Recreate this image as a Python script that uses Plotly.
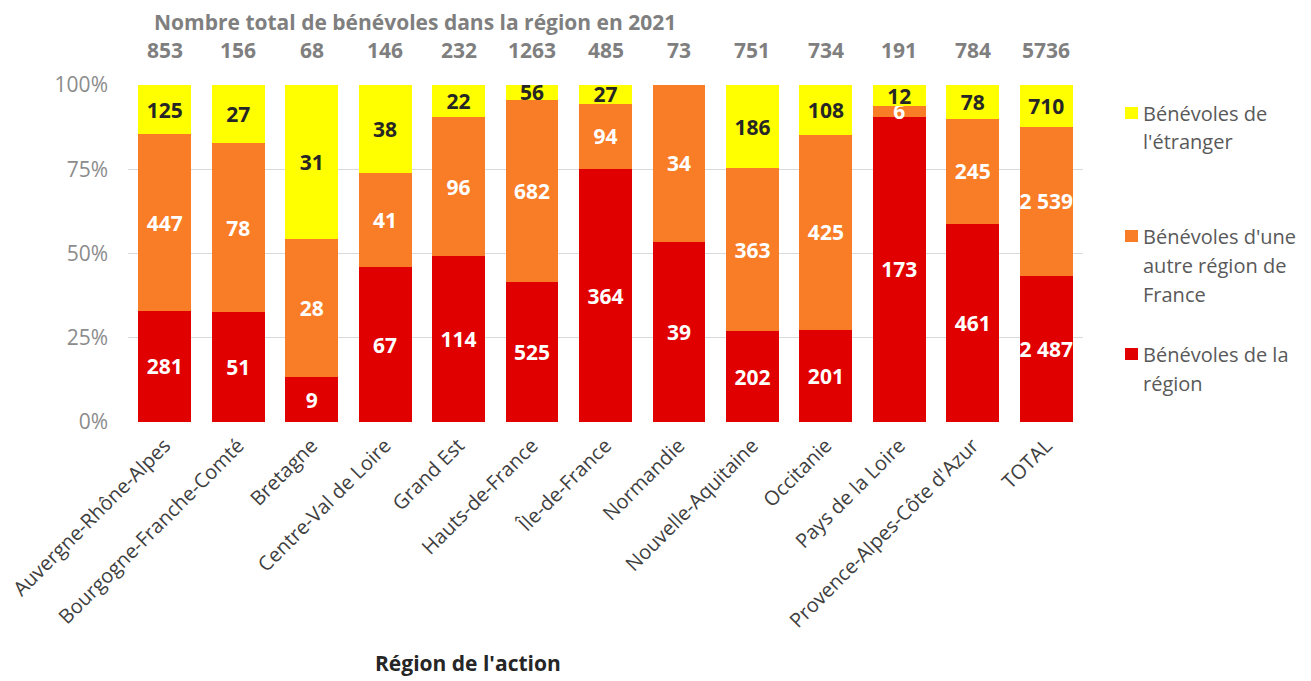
import plotly.graph_objects as go

regions = ["Auvergne-Rhône-Alpes", "Bourgogne-Franche-Comté", "Bretagne",
           "Centre-Val de Loire", "Grand Est", "Hauts-de-France", "Île-de-France",
           "Normandie", "Nouvelle-Aquitaine", "Occitanie", "Pays de la Loire",
           "Provence-Alpes-Côte d'Azur", "TOTAL"]
local_vals = [281, 51, 9, 67, 114, 525, 364, 39, 202, 201, 173, 461, 2487]
other_vals = [447, 78, 28, 41, 96, 682, 94, 34, 363, 425, 6, 245, 2539]
abroad_vals = [125, 27, 31, 38, 22, 56, 27, 0, 186, 108, 12, 78, 710]
totals = [853, 156, 68, 146, 232, 1263, 485, 73, 751, 734, 191, 784, 5736]

series_names = ["Bénévoles de la région", "Bénévoles d'une autre région de France",
                "Bénévoles de l'étranger"]
legend_lines = [["Bénévoles de", "l'étranger"],
                ["Bénévoles d'une", "autre région de", "France"],
                ["Bénévoles de la", "région"]]
ytick_vals = [0, 25, 50, 75, 100]
ytick_text = ["0%", "25%", "50%", "75%", "100%"]

title_text = "Nombre total de bénévoles dans la région en 2021"
xaxis_title = "Région de l'action"

RED = "#e00000"
ORANGE = "#f97c27"
YELLOW = "#ffff00"

FONT = "Open Sans, Lato, DejaVu Sans, sans-serif"
OFF = 8  # browser body margin

FIG_W, FIG_H = 1311 - OFF, 681 - OFF


def fmt(v):
    return "" if v == 0 else f"{v:,}".replace(",", " ")


fig = go.Figure()
for name, vals, col, tcol in [
    (series_names[0], local_vals, RED, "#ffffff"),
    (series_names[1], other_vals, ORANGE, "#ffffff"),
    (series_names[2], abroad_vals, YELLOW, "#262626"),
]:
    fig.add_trace(go.Bar(
        x=regions, y=vals, name=name, marker=dict(color=col, line=dict(width=0)),
        text=[fmt(v) for v in vals], textposition="inside",
        insidetextanchor="middle", textangle=0, constraintext="none",
        textfont=dict(family=FONT, size=21, color=tcol, weight="bold"),
        showlegend=False, cliponaxis=False,
    ))

# plot area in page pixels
L, R, T, B = 128, 1083, 85, 422
W, H = R - L, B - T


def px_x(px):
    return (px - L) / W


def px_y(py):
    return (B - py) / H


annotations = []
annotations.append(dict(text=title_text, xref="paper", yref="paper",
                        x=px_x(415), y=px_y(22.5), showarrow=False,
                        xanchor="center", yanchor="middle",
                        font=dict(family=FONT, size=21, color="#7f7f7f", weight="bold")))
for reg, tot in zip(regions, totals):
    annotations.append(dict(text=str(tot), xref="x", yref="paper", x=reg, y=px_y(50),
                            showarrow=False, xanchor="center", yanchor="middle",
                            font=dict(family=FONT, size=21, color="#7f7f7f", weight="bold")))
annotations.append(dict(text=xaxis_title, xref="paper", yref="paper",
                        x=px_x(468), y=px_y(663), showarrow=False,
                        xanchor="center", yanchor="middle",
                        font=dict(family=FONT, size=21, color="#262626", weight="bold")))

shapes = []
legend_colors = [YELLOW, ORANGE, RED]
legend_line_y = [[113, 141], [236, 265, 294], [354, 383]]
for col, lines, ys in zip(legend_colors, legend_lines, legend_line_y):
    yc = ys[0]
    shapes.append(dict(type="rect", xref="paper", yref="paper",
                       x0=px_x(1125), x1=px_x(1138), y0=px_y(yc + 6), y1=px_y(yc - 6),
                       fillcolor=col, line=dict(width=0)))
    for txt, yy in zip(lines, ys):
        annotations.append(dict(text=txt, xref="paper", yref="paper",
                                x=px_x(1141), y=px_y(yy), showarrow=False,
                                xanchor="left", yanchor="middle",
                                font=dict(family=FONT, size=20, color="#595959")))

fig.update_layout(
    barmode="stack", barnorm="percent", bargap=0.28,
    width=FIG_W, height=FIG_H,
    margin=dict(l=L - OFF, r=FIG_W - (R - OFF), t=T - OFF, b=FIG_H - (B - OFF),
                autoexpand=False),
    paper_bgcolor="white", plot_bgcolor="white",
    font=dict(family=FONT),
    annotations=annotations, shapes=shapes,
    showlegend=False,
    xaxis=dict(tickangle=-45, showgrid=False, showline=False, ticks="",
               automargin=False, ticklabelstandoff=7,
               tickfont=dict(family=FONT, size=20, color="#404040")),
    yaxis=dict(range=[0, 100.0001], tickvals=ytick_vals, ticktext=ytick_text,
               showgrid=True, gridcolor="#d9d9d9", gridwidth=1, zeroline=False,
               showline=False, ticks="", ticklabelstandoff=19, automargin=False,
               tickfont=dict(family=FONT, size=21, color="#8c8c8c")),
)

fig.write_html("out.html")
